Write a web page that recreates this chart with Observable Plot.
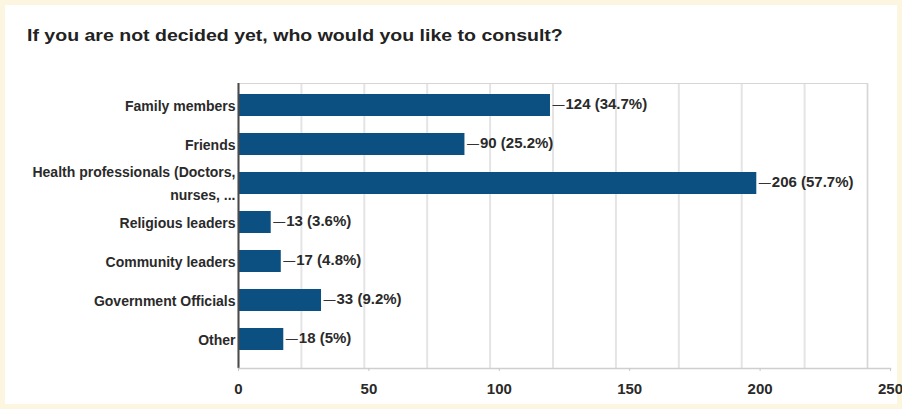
<!DOCTYPE html>
<html><head><meta charset="utf-8">
<script src="https://cdn.jsdelivr.net/npm/d3@7"></script>
<script src="https://cdn.jsdelivr.net/npm/@observablehq/plot@0.6"></script>
<style>
html,body{margin:0;padding:0;background:#fcf6e1;width:902px;height:409px;overflow:hidden;}
#card{position:absolute;left:5px;top:5px;width:892px;height:399px;background:#fff;}
#title{position:absolute;left:27px;top:27px;font:bold 16px "Liberation Sans",Arial,sans-serif;color:#222;white-space:nowrap;transform:scaleX(1.22);transform-origin:0 0;}
#main,#axis{position:absolute;left:0;top:0;}
</style></head><body>
<div id="card"></div>
<div id="title"></div>
<div id="main"></div>
<div id="axis"></div>
<script>
const titleText = "If you are not decided yet, who would you like to consult?";
const categories = ["Family members","Friends","Health professionals (Doctors,\nnurses, ...","Religious leaders","Community leaders","Government Officials","Other"];
const counts = [124, 90, 206, 13, 17, 33, 18];
const percents = ["34.7%","25.2%","57.7%","3.6%","4.8%","9.2%","5%"];
const xTicks = [0, 50, 100, 150, 200, 250];
const gridStep = 25;

document.getElementById("title").textContent = titleText;
const data = categories.map((c, i) => ({category: c, count: counts[i], pct: percents[i]}));
const FONT = '"Liberation Sans", Arial, sans-serif';
const W = 902, H = 409;

const main = Plot.plot({
  width: W, height: H,
  marginTop: 83, marginBottom: 41, marginLeft: 238, marginRight: 35,
  style: {background: "transparent", fontFamily: FONT, color: "#2a2a2a"},
  x: {domain: [0, 250], axis: null, label: null},
  y: {domain: categories, paddingInner: 0.44, paddingOuter: 0.22, insetBottom: 8, axis: null, label: null},
  marks: [
    Plot.ruleX(d3.range(0, 251, gridStep), {stroke: "#e4e4e4", strokeWidth: 2}),
    Plot.frame({stroke: "#d6d6d6"}),
    Plot.barX(data, {x: "count", y: "category", fill: "#0b5080"}),
    Plot.ruleX([0], {stroke: "#4a4a4a", strokeWidth: 2}),
    Plot.axisY({label: null, tickSize: 0, tickPadding: 3, dy: -2, lineHeight: 1.6, fontSize: 14, fontWeight: "bold", fill: "#2a2a2a"}),
    Plot.text(data, {x: "count", y: "category", text: () => "\u2014", textAnchor: "start", dx: 2, fontSize: 12, fill: "#333"}),
    Plot.text(data, {x: "count", y: "category", text: d => `${d.count} (${d.pct})`, textAnchor: "start", dx: 15, dy: -1, fontSize: 15, fontWeight: "bold", fill: "#2a2a2a"})
  ]
});
document.getElementById("main").appendChild(main);

const axis = Plot.plot({
  width: W, height: H,
  marginTop: 83, marginBottom: 41, marginLeft: 238, marginRight: 12,
  style: {background: "transparent", fontFamily: FONT, color: "#2a2a2a"},
  x: {domain: [0, 250], axis: null, label: null},
  marks: [
    Plot.frame({anchor: "bottom", stroke: "#cfcfcf", strokeWidth: 1.5}),
    Plot.axisX(xTicks, {label: null, tickSize: 3, tickPadding: 12, fontSize: 15, fontWeight: "bold", stroke: "#c8c8c8", fill: "#2a2a2a"})
  ]
});
document.getElementById("axis").appendChild(axis);
</script>
</body></html>
